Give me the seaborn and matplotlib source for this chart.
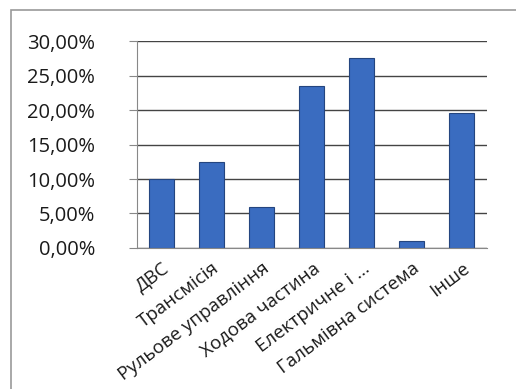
import matplotlib
matplotlib.use('Agg')
import matplotlib.pyplot as plt
import matplotlib.patches as mpatches
from matplotlib.ticker import FuncFormatter, MultipleLocator
import pandas as pd
import seaborn as sns

categories = ['ДВС', 'Трансмісія', 'Рульове управління', 'Ходова частина',
              'Електричне і ...', 'Гальмівна система', 'Інше']
shares = [10.0, 12.5, 6.0, 23.5, 27.5, 1.0, 19.5]

df = pd.DataFrame({'cat': categories, 'share': shares})

sns.set_style('white')
plt.rcParams['font.family'] = ['Open Sans', 'DejaVu Sans']

fig = plt.figure(figsize=(5.16, 3.89), dpi=100)
ax = fig.add_axes([0.2655, 0.3625, 0.678, 0.532])

sns.barplot(data=df, x='cat', y='share', color='#3A6CC0', width=0.5,
            edgecolor='#24457f', linewidth=0.8, saturation=1, ax=ax)

ax.set_ylim(0, 30)
ax.yaxis.set_major_locator(MultipleLocator(5))
ax.yaxis.set_major_formatter(FuncFormatter(lambda v, p: f'{v:.2f}%'.replace('.', ',')))
ax.grid(axis='y', color='#444444', linewidth=1.0)
ax.set_axisbelow(True)
for s in ['top', 'right']:
    ax.spines[s].set_visible(False)
ax.spines['left'].set_color('#888888')
ax.spines['bottom'].set_color('#888888')
ax.tick_params(axis='y', labelsize=14.5, length=6, color='#888888', left=True,
               pad=24, labelcolor='#1a1a1a')
ax.tick_params(axis='x', labelsize=13.5, length=0, pad=8, labelcolor='#1a1a1a')
plt.setp(ax.get_xticklabels(), rotation=37, ha='right', rotation_mode='anchor')
ax.set_xlabel('')
ax.set_ylabel('')

# outer frame of the chart area
fig.patches.append(mpatches.Rectangle((11 / 516, -0.1), 1.2, 1 - 10 / 389 + 0.1,
                                      transform=fig.transFigure, fill=False,
                                      edgecolor='#999999', linewidth=1.2))

fig.savefig('out.png', dpi=100)
